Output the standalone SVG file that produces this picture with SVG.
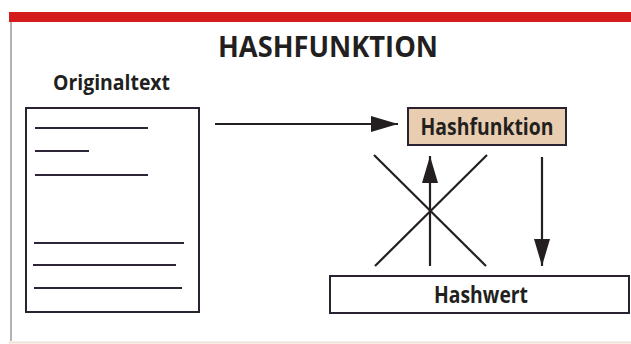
<svg xmlns="http://www.w3.org/2000/svg" width="631" height="344" viewBox="0 0 631 344">
<style>
.t{font-family:"Open Sans","Noto Sans","Liberation Sans",sans-serif;font-weight:700;fill:#231f20}
.ln{stroke:#2e2438;stroke-width:2;fill:none}
.bx{stroke:#2a2230;stroke-width:2}
.c{stroke:#231f20;stroke-width:2.2;fill:none}
</style>
<defs>
<marker id="ah" viewBox="0 0 27 16" refX="27" refY="8" markerWidth="27" markerHeight="16" markerUnits="userSpaceOnUse" orient="auto">
<path d="M0,0 L27,8 L0,16 Z" fill="#231f20"/>
</marker>
</defs>
<rect x="0" y="0" width="631" height="344" fill="#fff"/>
<rect x="9" y="12" width="622" height="10" fill="#d41c1c"/>
<line x1="11" y1="22" x2="11" y2="341" stroke="#9a9a9a" stroke-width="1.5"/>
<line x1="9" y1="342.5" x2="631" y2="342.5" stroke="#f0e0d8" stroke-width="2"/>
<text class="t" x="328" y="57" font-size="29" text-anchor="middle" textLength="220" lengthAdjust="spacingAndGlyphs">HASHFUNKTION</text>
<g id="originaltext">
<text class="t" x="53" y="90" font-size="22" textLength="117" lengthAdjust="spacingAndGlyphs">Originaltext</text>
<rect class="bx" x="26" y="108" width="173" height="204" fill="#fff"/>
<line class="ln" x1="35" y1="128" x2="148" y2="128"/>
<line class="ln" x1="35" y1="151" x2="89" y2="151"/>
<line class="ln" x1="35" y1="175" x2="148" y2="175" stroke="#2f3a2a"/>
<line class="ln" x1="34" y1="243" x2="184" y2="243"/>
<line class="ln" x1="33" y1="265" x2="176" y2="265"/>
<line class="ln" x1="34" y1="288" x2="182" y2="288" stroke="#2f3a2a"/>
</g>
<g id="hashfunktion">
<rect class="bx" x="408" y="108" width="158" height="37" fill="#e8cdb0"/>
<text class="t" x="487" y="135" font-size="23" text-anchor="middle" textLength="133" lengthAdjust="spacingAndGlyphs">Hashfunktion</text>
</g>
<g id="hashwert">
<rect class="bx" x="330" y="276" width="299" height="37" fill="#fff"/>
<text class="t" x="481" y="303" font-size="23" text-anchor="middle" textLength="94" lengthAdjust="spacingAndGlyphs">Hashwert</text>
</g>
<g id="connectors">
<line class="c" x1="215" y1="124" x2="398" y2="124" marker-end="url(#ah)"/>
<line class="c" x1="374" y1="155" x2="486" y2="266"/>
<line class="c" x1="487" y1="155" x2="375" y2="266"/>
<line class="c" x1="430" y1="266" x2="430" y2="156" marker-end="url(#ah)"/>
<line class="c" x1="542" y1="157" x2="542" y2="266" marker-end="url(#ah)"/>
</g>
</svg>
